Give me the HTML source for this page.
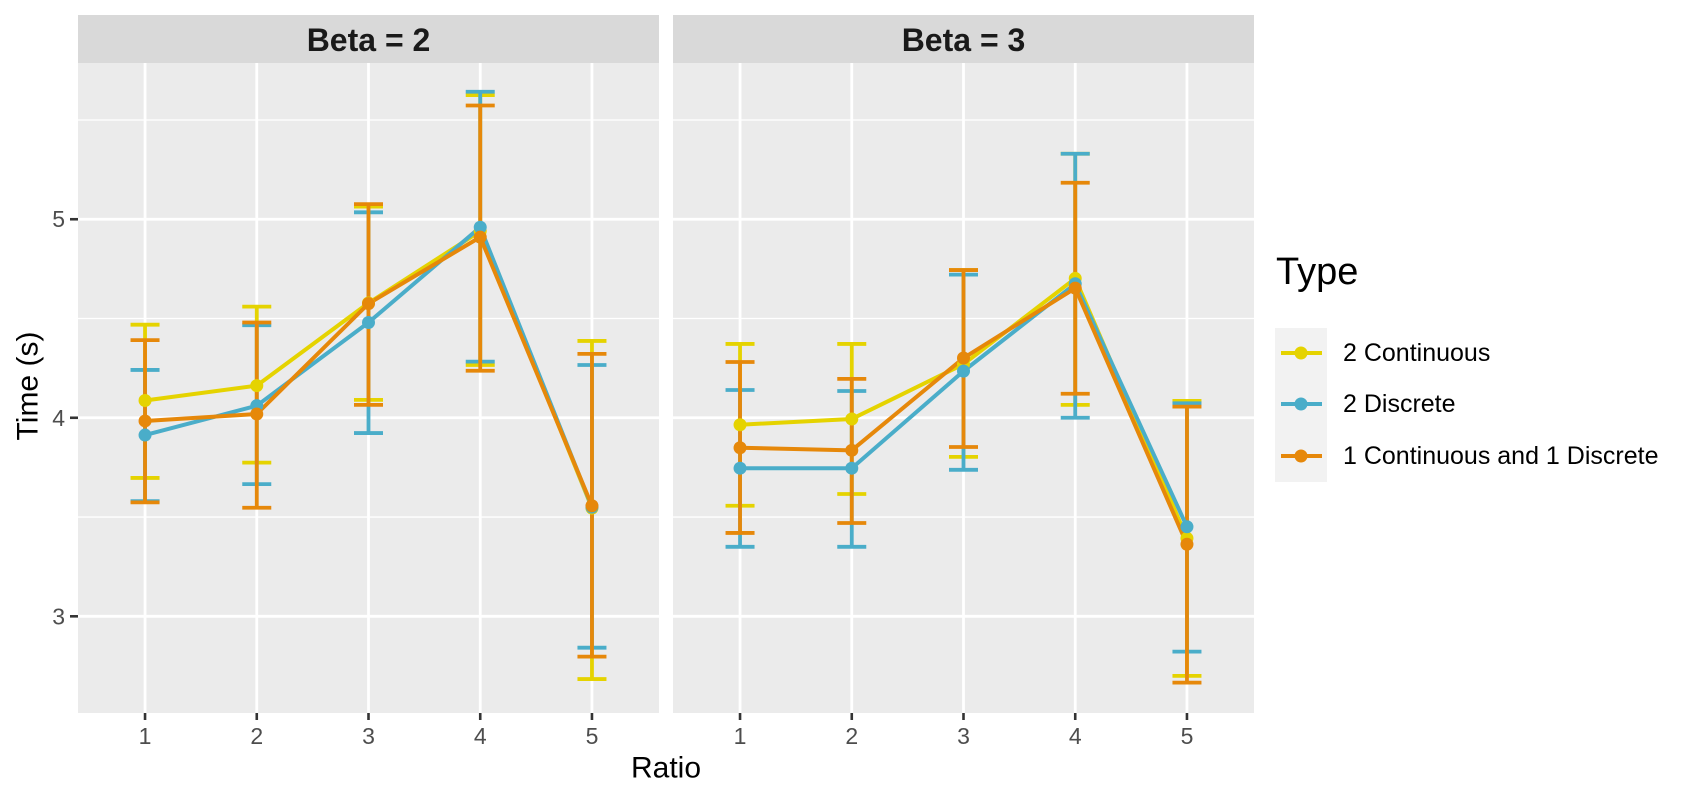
<!DOCTYPE html>
<html><head><meta charset="utf-8"><style>
html,body{margin:0;padding:0;background:#fff;}
svg{display:block;font-family:"Liberation Sans",Arial,sans-serif;}
</style></head><body>
<svg id="chart" width="1700" height="800" viewBox="0 0 1700 800" xmlns="http://www.w3.org/2000/svg">
<g id="panels"></g>
<g id="axes"></g>
<text x="28" y="386" transform="rotate(-90 28 386)" text-anchor="middle" dominant-baseline="central" font-size="30" fill="#000">Time (s)</text>
<text x="666" y="768" text-anchor="middle" dominant-baseline="central" font-size="30" fill="#000">Ratio</text>
<g>
<text x="1276" y="284" font-size="38" fill="#000">Type</text>
<rect x="1275" y="328" width="52" height="154" fill="#f2f2f2"/>
<g id="legend-entries"></g>
</g>
</svg>
<script>
const ratios = [1, 2, 3, 4, 5];
const facets = ["Beta = 2", "Beta = 3"];
const seriesNames = ["2 Continuous", "2 Discrete", "1 Continuous and 1 Discrete"];
const colors = ["#E5D300", "#4AADC9", "#E6880A"];
const yTicks = [3, 4, 5];
// Beta = 2
const b2_cont_mean = [4.087, 4.162, 4.578, 4.94, 3.545];
const b2_cont_lo   = [3.697, 3.774, 4.09, 4.266, 2.684];
const b2_cont_hi   = [4.469, 4.56, 5.064, 5.625, 4.387];
const b2_disc_mean = [3.913, 4.061, 4.48, 4.96, 3.55];
const b2_disc_lo   = [3.58, 3.666, 3.923, 4.283, 2.842];
const b2_disc_hi   = [4.241, 4.466, 5.035, 5.642, 4.266];
const b2_mix_mean  = [3.984, 4.019, 4.575, 4.91, 3.557];
const b2_mix_lo    = [3.574, 3.547, 4.065, 4.237, 2.797];
const b2_mix_hi    = [4.391, 4.48, 5.076, 5.573, 4.322];
// Beta = 3
const b3_cont_mean = [3.965, 3.994, 4.27, 4.702, 3.393];
const b3_cont_lo   = [3.557, 3.616, 3.803, 4.065, 2.70];
const b3_cont_hi   = [4.372, 4.372, 4.744, 5.33, 4.085];
const b3_disc_mean = [3.746, 3.746, 4.235, 4.675, 3.451];
const b3_disc_lo   = [3.35, 3.35, 3.738, 4.0, 2.822];
const b3_disc_hi   = [4.14, 4.135, 4.721, 5.33, 4.073];
const b3_mix_mean  = [3.849, 3.836, 4.301, 4.653, 3.363];
const b3_mix_lo    = [3.42, 3.47, 3.853, 4.121, 2.666];
const b3_mix_hi    = [4.281, 4.196, 4.744, 5.184, 4.056];

const facetData = [
  [[b2_cont_mean,b2_cont_lo,b2_cont_hi],[b2_disc_mean,b2_disc_lo,b2_disc_hi],[b2_mix_mean,b2_mix_lo,b2_mix_hi]],
  [[b3_cont_mean,b3_cont_lo,b3_cont_hi],[b3_disc_mean,b3_disc_lo,b3_disc_hi],[b3_mix_mean,b3_mix_lo,b3_mix_hi]]
];

const NS = "http://www.w3.org/2000/svg";
function mk(tag, attrs, parent){const e=document.createElementNS(NS,tag);for(const k in attrs)e.setAttribute(k,attrs[k]);parent.appendChild(e);return e;}
const panelX=[78,673], panelW=581, panelTop=63, panelBot=713, stripTop=15;
const xMin=0.4, xMax=5.6, yMin=2.513, yMax=5.787;
function xs(p,v){return panelX[p]+(v-xMin)/(xMax-xMin)*panelW;}
function ys(v){return panelBot-(v-yMin)/(yMax-yMin)*(panelBot-panelTop);}

const panels=document.getElementById('panels');
const axes=document.getElementById('axes');
facets.forEach((f,p)=>{
  const g=mk('g',{},panels);
  
  
  const strip=mk('rect',{x:panelX[p],y:stripTop,width:panelW,height:panelTop-stripTop,fill:'#d9d9d9'},g);
  
  
  const st=mk('text',{x:panelX[p]+panelW/2,y:(stripTop+panelTop)/2+1,'text-anchor':'middle','dominant-baseline':'central','font-size':'32','font-weight':'bold',fill:'#1a1a1a'},g);
  st.textContent=f;
  
  
  const bg=mk('rect',{x:panelX[p],y:panelTop,width:panelW,height:panelBot-panelTop,fill:'#ebebeb'},g);
  
  
  for(let m=2.5;m<yMax;m+=1){ if(m<yMin) continue;
    const l=mk('line',{x1:panelX[p],x2:panelX[p]+panelW,y1:ys(m),y2:ys(m),stroke:'#fff','stroke-width':1.3},g);
    
    
  }
  yTicks.forEach(t=>{
    const l=mk('line',{x1:panelX[p],x2:panelX[p]+panelW,y1:ys(t),y2:ys(t),stroke:'#fff','stroke-width':2.8},g);
    
    
  });
  ratios.forEach(r=>{
    const l=mk('line',{x1:xs(p,r),x2:xs(p,r),y1:panelTop,y2:panelBot,stroke:'#fff','stroke-width':2.8},g);
    
    
    const tk=mk('line',{x1:xs(p,r),x2:xs(p,r),y1:panelBot,y2:panelBot+7,stroke:'#333','stroke-width':2.6},axes);
    
    
    const tl=mk('text',{x:xs(p,r),y:736,'text-anchor':'middle','dominant-baseline':'central','font-size':'23',fill:'#4d4d4d'},axes);
    tl.textContent=r;
    
    
  });
  const series=facetData[p];
  series.forEach((s,si)=>{
    ratios.forEach((r,i)=>{
      const x=xs(p,r), hw=14.5;
      const eg=mk('g',{stroke:colors[si],'stroke-width':3.8,fill:'none'},g);
      
      
      mk('line',{x1:x,x2:x,y1:ys(s[1][i]),y2:ys(s[2][i])},eg);
      mk('line',{x1:x-hw,x2:x+hw,y1:ys(s[1][i]),y2:ys(s[1][i])},eg);
      mk('line',{x1:x-hw,x2:x+hw,y1:ys(s[2][i]),y2:ys(s[2][i])},eg);
    });
  });
  series.forEach((s,si)=>{
    const pts=ratios.map((r,i)=>xs(p,r)+','+ys(s[0][i])).join(' ');
    const pl=mk('polyline',{points:pts,fill:'none',stroke:colors[si],'stroke-width':4,'stroke-linejoin':'round'},g);
    
    
  });
  series.forEach((s,si)=>{
    ratios.forEach((r,i)=>{
      const c=mk('circle',{cx:xs(p,r),cy:ys(s[0][i]),r:6.5,fill:colors[si]},g);
      
      
    });
  });
});
yTicks.forEach(t=>{
  const tk=mk('line',{x1:70,x2:78,y1:ys(t),y2:ys(t),stroke:'#333','stroke-width':2.6},axes);
  
  
  const tl=mk('text',{x:65,y:ys(t),'text-anchor':'end','dominant-baseline':'central','font-size':'23',fill:'#4d4d4d'},axes);
  tl.textContent=t;
  
  
});
const le=document.getElementById('legend-entries');
const legendY=[353,404,456];
seriesNames.forEach((n,i)=>{
  const g=mk('g',{},le);
  
  
  mk('line',{x1:1281,x2:1322,y1:legendY[i],y2:legendY[i],stroke:colors[i],'stroke-width':4},g);
  mk('circle',{cx:1301,cy:legendY[i],r:6.5,fill:colors[i]},g);
  const t=mk('text',{x:1343,y:legendY[i],'dominant-baseline':'central','font-size':'25',fill:'#000'},g);
  t.textContent=n;
});
</script>
</body></html>
